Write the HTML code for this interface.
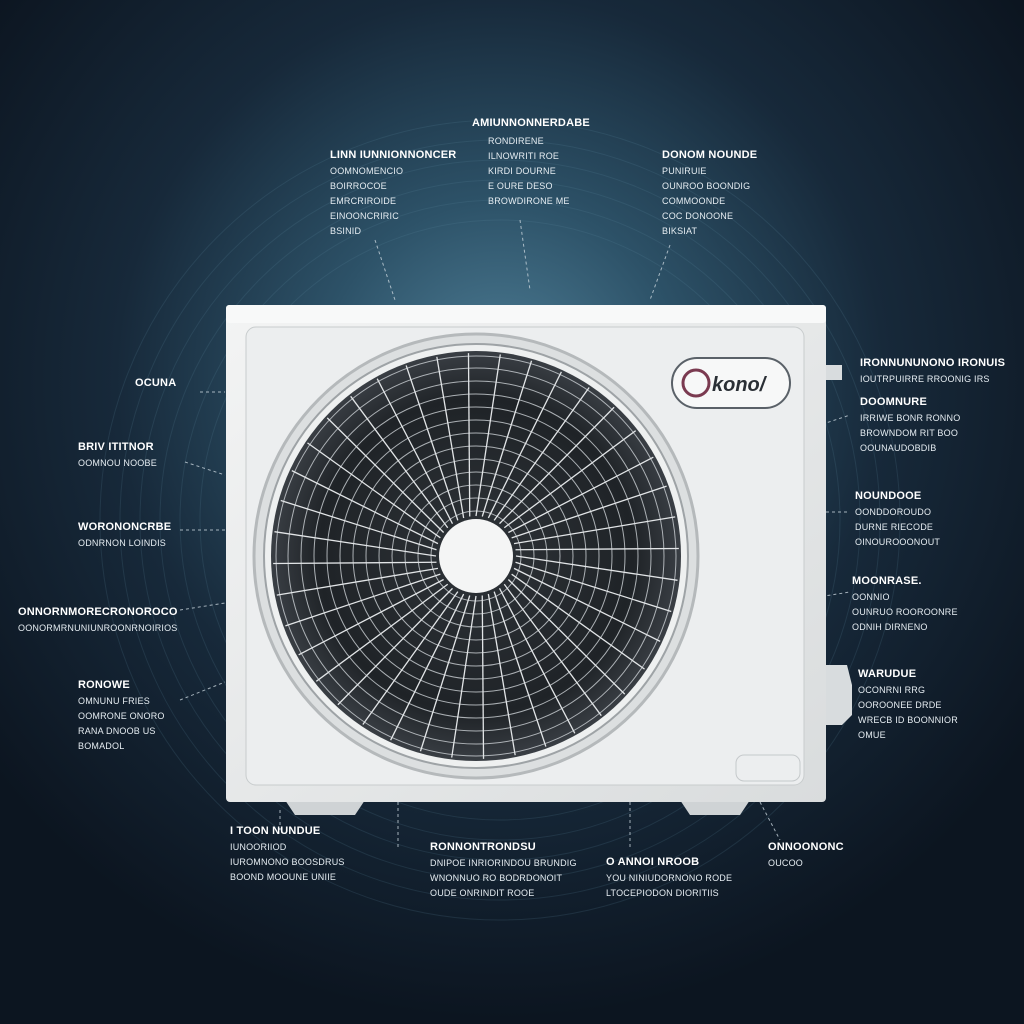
<!DOCTYPE html>
<html><head><meta charset="utf-8"><style>
html,body{margin:0;padding:0;width:1024px;height:1024px;overflow:hidden;background:#0f1b27}
.t{position:absolute;font-family:"Liberation Sans",sans-serif;color:#e6edf2;font-size:9px;line-height:15px;white-space:nowrap;letter-spacing:0.2px}
.t b{font-size:11px;font-weight:bold;display:block;line-height:18px;color:#fff}
</style></head><body>
<svg width="1024" height="1024" style="position:absolute;left:0;top:0">
<defs>
<radialGradient id="bg" cx="500" cy="380" r="640" gradientUnits="userSpaceOnUse">
<stop offset="0" stop-color="#4f7f97"/><stop offset="0.28" stop-color="#2d5268"/><stop offset="0.6" stop-color="#17293a"/><stop offset="1" stop-color="#0c1520"/></radialGradient>
<linearGradient id="body" x1="0" y1="0" x2="1" y2="1"><stop offset="0" stop-color="#f3f4f4"/><stop offset="1" stop-color="#d9dcdd"/></linearGradient>
<radialGradient id="fan" cx="476" cy="556" r="210" gradientUnits="userSpaceOnUse"><stop offset="0" stop-color="#2e3338"/><stop offset="0.75" stop-color="#1f2327"/><stop offset="1" stop-color="#3c4147"/></radialGradient>
</defs>
<rect width="1024" height="1024" fill="url(#bg)"/>
<g fill="none" stroke="#5f8aa0" stroke-opacity="0.18">
<circle cx="500" cy="520" r="300"/><circle cx="500" cy="520" r="320"/><circle cx="500" cy="520" r="340"/><circle cx="500" cy="520" r="360"/><circle cx="500" cy="520" r="380"/><circle cx="500" cy="520" r="400"/>
</g>
<g stroke="#c8d4dc" stroke-width="1" stroke-dasharray="3,3" opacity="0.8">
<line x1="375" y1="240" x2="395" y2="300"/><line x1="520" y1="220" x2="530" y2="290"/><line x1="670" y1="245" x2="650" y2="300"/>
<line x1="200" y1="392" x2="225" y2="392"/><line x1="185" y1="462" x2="225" y2="475"/><line x1="180" y1="530" x2="225" y2="530"/><line x1="180" y1="610" x2="225" y2="603"/><line x1="180" y1="700" x2="225" y2="682"/>
<line x1="805" y1="430" x2="850" y2="415"/><line x1="826" y1="512" x2="850" y2="512"/><line x1="780" y1="603" x2="850" y2="592"/><line x1="826" y1="690" x2="850" y2="690"/>
<line x1="280" y1="810" x2="280" y2="830"/><line x1="398" y1="802" x2="398" y2="850"/><line x1="630" y1="802" x2="630" y2="850"/><line x1="760" y1="802" x2="780" y2="840"/>
</g>
<path d="M822 365 h20 v15 h-20z" fill="#d8dcde"/>
<path d="M822 665 h25 l5 20 v30 l-10 10 h-20z" fill="#d8dcde"/>
<path d="M285 800 h80 l-10 15 h-60z M680 800 h70 l-10 15 h-50z" fill="#cfd3d5"/>
<rect x="226" y="305" width="600" height="497" rx="4" fill="url(#body)"/>
<rect x="226" y="305" width="600" height="18" rx="3" fill="#f8f9f9"/>
<rect x="246" y="327" width="558" height="458" rx="10" fill="#eceeef" stroke="#c8cccd"/>
<circle cx="476" cy="556" r="222" fill="#dcdfe0" stroke="#b5b9bb" stroke-width="3"/>
<circle cx="476" cy="556" r="212" fill="#eef0f0" stroke="#9ea3a6" stroke-width="2"/>
<circle cx="476" cy="556" r="205" fill="url(#fan)"/>
<g fill="none" stroke="#c4c9cd" stroke-width="1" opacity="0.85">
<circle cx="476" cy="556" r="45"/><circle cx="476" cy="556" r="58"/><circle cx="476" cy="556" r="71"/><circle cx="476" cy="556" r="84"/><circle cx="476" cy="556" r="97"/><circle cx="476" cy="556" r="110"/><circle cx="476" cy="556" r="123"/><circle cx="476" cy="556" r="136"/><circle cx="476" cy="556" r="149"/><circle cx="476" cy="556" r="162"/><circle cx="476" cy="556" r="175"/><circle cx="476" cy="556" r="188"/><circle cx="476" cy="556" r="200"/>
</g>
<g id="sp" stroke="#e2e5e7" stroke-width="1.3"></g>
<circle cx="476" cy="556" r="37" fill="#f4f5f5"/>
<rect x="736" y="755" width="64" height="26" rx="8" fill="none" stroke="#c5c9cb"/>
<rect x="672" y="358" width="118" height="50" rx="25" fill="#f7f8f8" stroke="#5a6168" stroke-width="2"/>
<circle cx="696" cy="383" r="13" fill="none" stroke="#7a3a50" stroke-width="3"/>
<text x="712" y="391" font-family="Liberation Sans" font-size="20" fill="#2a2f35" font-style="italic" font-weight="bold">kono/</text>
</svg>
<script>
var g=document.getElementById('sp'),s='';
for(var i=0;i<40;i++){var a=i*Math.PI*2/40;var x1=476+40*Math.cos(a),y1=556+40*Math.sin(a),x2=476+203*Math.cos(a+0.12),y2=556+203*Math.sin(a+0.12);
s+='<line x1="'+x1+'" y1="'+y1+'" x2="'+x2+'" y2="'+y2+'"/>';}
g.innerHTML=s;
</script>
<div class="t" style="left:472px;top:114px"><b>AMIUNNONNERDABE</b></div>
<div class="t" style="left:488px;top:134px">RONDIRENE<br>ILNOWRITI  ROE<br>KIRDI DOURNE<br>E OURE DESO<br>BROWDIRONE ME</div>
<div class="t" style="left:330px;top:146px"><b>LINN IUNNIONNONCER</b>OOMNOMENCIO<br>BOIRROCOE<br>EMRCRIROIDE<br>EINOONCRIRIC<br>BSINID</div>
<div class="t" style="left:662px;top:146px"><b>DONOM NOUNDE</b>PUNIRUIE<br>OUNROO BOONDIG<br>COMMOONDE<br>COC DONOONE<br>BIKSIAT</div>
<div class="t" style="left:135px;top:374px"><b>OCUNA</b></div>
<div class="t" style="left:78px;top:438px"><b>BRIV ITITNOR</b>OOMNOU NOOBE</div>
<div class="t" style="left:78px;top:518px"><b>WORONONCRBE</b>ODNRNON  LOINDIS</div>
<div class="t" style="left:18px;top:603px"><b>ONNORNMORECRONOROCO</b>OONORMRNUNIUNROONRNOIRIOS</div>
<div class="t" style="left:78px;top:676px"><b>RONOWE</b>OMNUNU FRIES<br>OOMRONE ONORO<br>RANA DNOOB US<br>BOMADOL</div>
<div class="t" style="left:860px;top:354px"><b>IRONNUNUNONO IRONUIS</b>IOUTRPUIRRE RROONIG IRS</div>
<div class="t" style="left:860px;top:393px"><b>DOOMNURE</b>IRRIWE BONR RONNO<br>BROWNDOM RIT BOO<br>OOUNAUDOBDIB</div>
<div class="t" style="left:855px;top:487px"><b>NOUNDOOE</b>OONDDOROUDO<br>DURNE RIECODE<br>OINOUROOONOUT</div>
<div class="t" style="left:852px;top:572px"><b>MOONRASE.</b>OONNIO<br>OUNRUO ROOROONRE<br>ODNIH DIRNENO</div>
<div class="t" style="left:858px;top:665px"><b>WARUDUE</b>OCONRNI RRG<br>OOROONEE DRDE<br>WRECB ID BOONNIOR<br>OMUE</div>
<div class="t" style="left:230px;top:822px"><b>I TOON NUNDUE</b>IUNOORIIOD<br>IUROMNONO BOOSDRUS<br>BOOND MOOUNE UNIIE</div>
<div class="t" style="left:430px;top:838px"><b>RONNONTRONDSU</b>DNIPOE INRIORINDOU BRUNDIG<br>WNONNUO RO BODRDONOIT<br>OUDE ONRINDIT ROOE</div>
<div class="t" style="left:606px;top:853px"><b>O  ANNOI NROOB</b>YOU NINIUDORNONO RODE<br>LTOCEPIODON DIORITIIS</div>
<div class="t" style="left:768px;top:838px"><b>ONNOONONC</b>OUCOO</div>
</body></html>
